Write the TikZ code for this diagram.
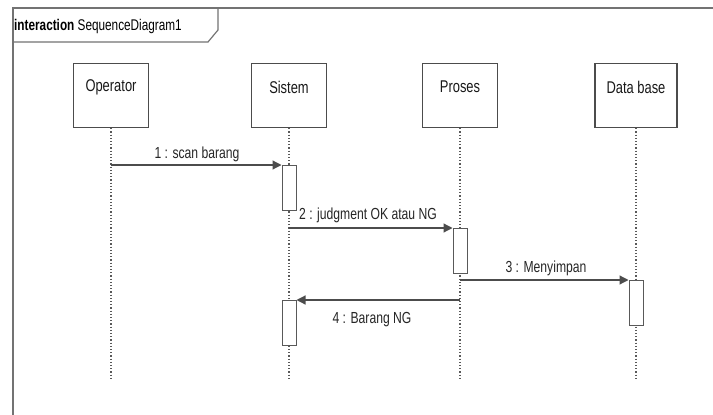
\documentclass[tikz,border=0pt]{standalone}
\usepackage{fontspec}
\setmainfont{Liberation Sans}[FakeStretch=0.76]
\usetikzlibrary{arrows.meta}
\begin{document}
\begin{tikzpicture}[x=1pt,y=-1pt,
  obj/.style={draw=black!70,line width=1.2pt,fill=white,minimum width=75pt,minimum height=64pt,inner sep=0pt,anchor=north},
  objt/.style={font=\fontsize{17}{19}\selectfont,text=black!90,inner sep=0pt},
  life/.style={draw=black!65,line width=1.2pt,dotted},
  act/.style={draw=black!65,line width=1pt,fill=white,inner sep=0pt,minimum width=14pt,minimum height=45pt,anchor=north},
  msg/.style={draw=black!70,line width=1.2pt,-{Triangle[length=9pt,width=9pt]}},
  lbl/.style={font=\fontsize{16}{18}\selectfont,text=black!85,inner sep=1pt}]
\useasboundingbox (0,0) rectangle (713,415);
\fill[white] (0,0) rectangle (713,415);
% frame
\draw[black!55,line width=1.6pt] (13,430) -- (13,8) -- (720,8);
\draw[black!55,line width=1.2pt] (13,42) -- (208,42) -- (218,30) -- (218,8);
\node[anchor=west,inner sep=0pt,font=\fontsize{15.5}{17}\selectfont] (title) at (14,26) {\textbf{interaction} SequenceDiagram1};
% objects
\node[obj] (op) at (111,63) {};
\node[obj] (si) at (289,63) {};
\node[obj] (pr) at (460,63) {};
\node[obj,minimum width=82pt] (db) at (636,63) {};
\node[objt] (opT) at (111,87) {Operator};
\node[objt] (siT) at (289,87) {Sistem};
\node[objt] (prT) at (460,87) {Proses};
\node[objt] (dbT) at (636,87) {Data base};
% lifeline ends
\coordinate (opE) at (111,380);
\coordinate (siE) at (289,380);
\coordinate (prE) at (460,380);
\coordinate (dbE) at (636,380);
\draw[life] (op.south) -- (opE);
\draw[life] (si.south) -- (siE);
\draw[life] (pr.south) -- (prE);
\draw[life] (db.south) -- (dbE);
% activations
\node[act] (a1) at (289,165) {};
\node[act] (a2) at (460,228) {};
\node[act] (a3) at (636,280) {};
\node[act] (a4) at (289,300) {};
% messages
\coordinate (m1s) at (111,165);
\draw[msg] (m1s) -- (a1.north west);
\coordinate (m2s) at (289,228);
\draw[msg] (m2s) -- (a2.north west);
\coordinate (m3s) at (460,280);
\draw[msg] (m3s) -- (a3.north west);
\coordinate (m4s) at (460,300);
\draw[msg] (m4s) -- (a4.north east);
\node[lbl] (l1) at (197,154) {1 : scan barang};
\node[lbl] (l2) at (368,215) {2 : judgment OK atau NG};
\node[lbl] (l3) at (546,268) {3 : Menyimpan};
\node[lbl] (l4) at (372,320) {4 : Barang NG};
\end{tikzpicture}
\end{document}
